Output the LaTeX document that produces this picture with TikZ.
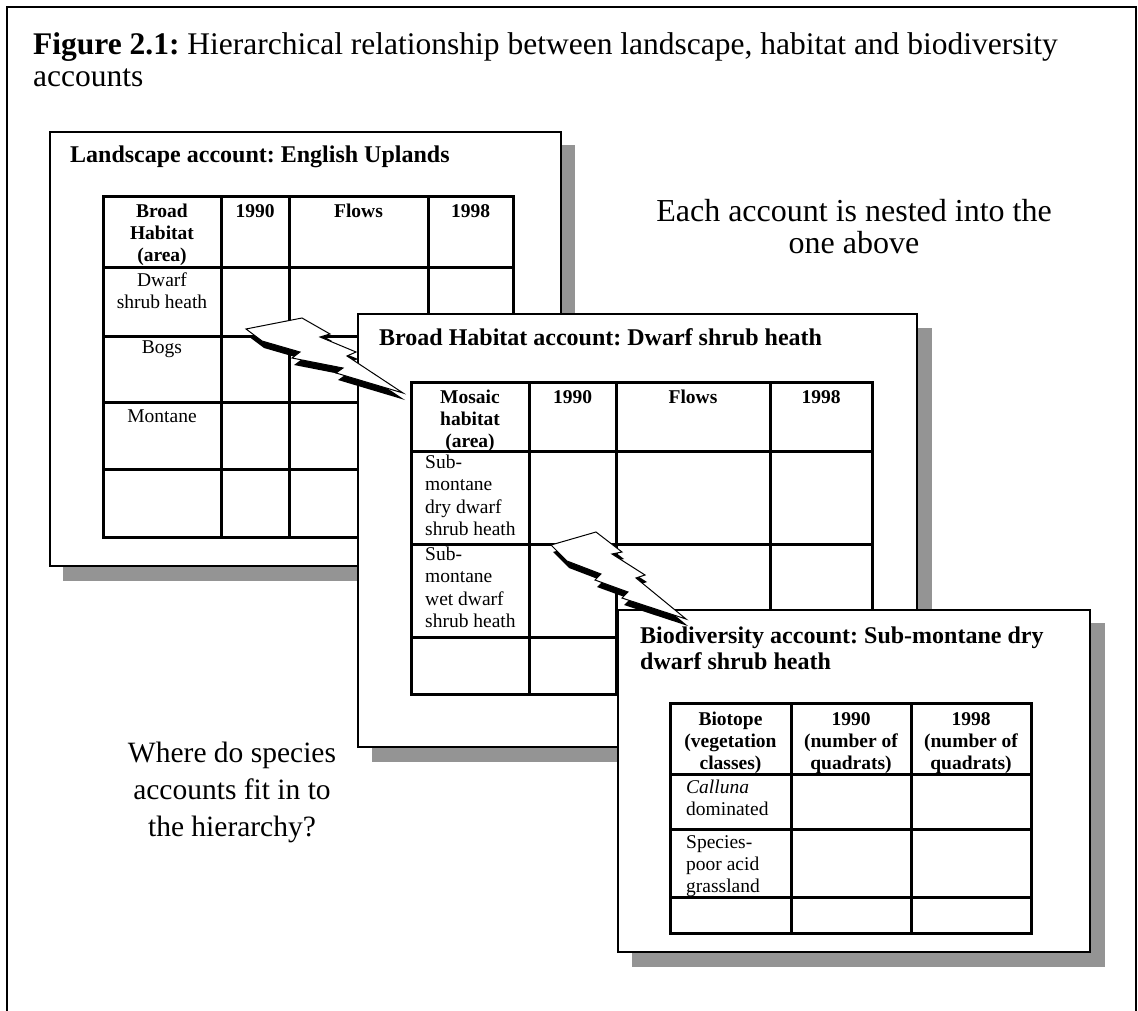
\documentclass[tikz,border=0pt]{standalone}
\usepackage{fontspec}
\setmainfont{Liberation Serif}
\frenchspacing
\newcommand\cstk[1]{\vtop{\halign{\hfil##\hfil\cr#1\crcr}}}
\newcommand\lstk[1]{\vtop{\halign{##\hfil\cr#1\crcr}}}
\begin{document}
\frenchspacing
\begin{tikzpicture}[x=1pt,y=-1pt,
  shadowbox/.style={fill=black!42, draw=none},
  panel/.style={fill=white, draw=black, line width=1.2pt},
  tbl/.style={line width=3pt, line cap=rect},
  big/.style={font=\fontsize{32}{32}\selectfont, inner sep=0pt, anchor=base},
  ptitle/.style={font=\bfseries\fontsize{24}{26}\selectfont, inner sep=0pt, anchor=base west},
  cell/.style={font=\fontsize{19.5}{22}\selectfont, inner sep=0pt, anchor=base},
  hcell/.style={inner sep=0pt, anchor=base, font=\bfseries\fontsize{19.5}{22}\selectfont},
  lcell/.style={inner sep=0pt, anchor=base west, font=\fontsize{19.5}{22.5}\selectfont},
  bolt/.style={fill=white, draw=black, line width=1pt, line join=miter}]
\path[use as bounding box] (0,0) rectangle (1138,1011);
% outer frame
\draw[line width=1.2pt] (7,1011) -- (7,7) -- (1136,7) -- (1136,1011);
\node[anchor=base west, inner sep=0pt, font=\fontsize{31.5}{30}\selectfont] (t1) at (33,55)
  {\textbf{Figure 2.1:} Hierarchical relationship between landscape, habitat and biodiversity};
\node[anchor=base west, inner sep=0pt, font=\fontsize{31.5}{30}\selectfont] (t2) at (33,87) {accounts};

% ---------- Panel 1 ----------
\fill[shadowbox] (63,145) rectangle (575,581);
\draw[panel] (50,132) rectangle (561,566);
\node[ptitle] (p1t) at (70,163) {Landscape account: English Uplands};
\draw[tbl] (103,197) rectangle (513,537);
\draw[tbl] (221,197)--(221,537) (289,197)--(289,537) (428,197)--(428,537);
\draw[tbl] (103,267)--(513,267) (103,336)--(513,336) (103,402)--(513,402) (103,469)--(513,469);
\node[hcell] (a11) at (162,218) {\cstk{Broad\cr Habitat\cr (area)}};
\node[hcell] (a12) at (255,218) {1990};
\node[hcell] (a13) at (358.5,218) {Flows};
\node[hcell] (a14) at (470.5,218) {1998};
\node[cell] (a21) at (162,287) {\cstk{Dwarf\cr shrub heath}};
\node[cell] (a31) at (162,353) {Bogs};
\node[cell] (a41) at (162,422) {Montane};

% ---------- Panel 2 ----------
\fill[shadowbox] (372,328) rectangle (932,762);
\draw[panel] (358,314) rectangle (917,747);
\node[ptitle] (p2t) at (379,345) {Broad Habitat account: Dwarf shrub heath};
\draw[tbl] (411,382) rectangle (872,694);
\draw[tbl] (529,382)--(529,694) (616,382)--(616,694) (770,382)--(770,694);
\draw[tbl] (411,451)--(872,451) (411,544)--(872,544) (411,637)--(872,637);
\node[hcell] (b11) at (470,403) {\cstk{Mosaic\cr habitat\cr (area)}};
\node[hcell] (b12) at (572.5,403) {1990};
\node[hcell] (b13) at (693,403) {Flows};
\node[hcell] (b14) at (821,403) {1998};
\node[lcell] (b21) at (425,468) {\lstk{Sub-\cr montane\cr dry dwarf\cr shrub heath}};
\node[lcell] (b31) at (425,560) {\lstk{Sub-\cr montane\cr wet dwarf\cr shrub heath}};

% bolt 1
\fill[black] (248,336) -- (304,325) -- (332,341) -- (322,344) -- (358,359) -- (349,363) -- (405,400) -- (338,380) -- (345,375) -- (294,365) -- (302,359) -- (264,348) -- cycle;
\filldraw[bolt] (246,329) -- (302,318) -- (330,334) -- (320,337) -- (356,352) -- (347,356) -- (403,393) -- (336,373) -- (343,368) -- (292,358) -- (300,352) -- (262,341) -- cycle;

% ---------- Panel 3 ----------
\fill[shadowbox] (632,623) rectangle (1105,967);
\draw[panel] (618,610) rectangle (1090,952);
\node[ptitle, font=\bfseries\fontsize{24}{26}\selectfont] (p3t) at (640,643)
  {\lstk{Biodiversity account: Sub-montane dry\cr dwarf shrub heath}};
\draw[tbl] (670,703) rectangle (1031,933);
\draw[tbl] (791,703)--(791,933) (911,703)--(911,933);
\draw[tbl] (670,774)--(1031,774) (670,829)--(1031,829) (670,897)--(1031,897);
\node[hcell] (c11) at (730.5,725) {\cstk{Biotope\cr (vegetation\cr classes)}};
\node[hcell] (c12) at (851,725) {\cstk{1990\cr (number of\cr quadrats)}};
\node[hcell] (c13) at (971,725) {\cstk{1998\cr (number of\cr quadrats)}};
\node[lcell, font=\fontsize{19.5}{22}\selectfont] (c21) at (686,793) {\lstk{\textit{Calluna}\cr dominated}};
\node[lcell, font=\fontsize{19.5}{22}\selectfont] (c31) at (686,848) {\lstk{Species-\cr poor acid\cr grassland}};

% bolt 2
\fill[black] (553,552) -- (598,539) -- (624,559) -- (614,561) -- (647,582) -- (638,585) -- (688,626) -- (624,605) -- (630,599) -- (597,587) -- (603,581) -- (569,568) -- cycle;
\filldraw[bolt] (551,545) -- (596,532) -- (622,552) -- (612,554) -- (645,575) -- (636,578) -- (686,619) -- (622,598) -- (628,592) -- (595,580) -- (601,574) -- (567,561) -- cycle;

% ---------- free texts ----------
\node[big] (nest) at (854,222) {\cstk{Each account is nested into the\cr one above}};
\node[big, font=\fontsize{29.5}{37}\selectfont] (where) at (232,762)
  {\cstk{Where do species\cr accounts fit in to\cr the hierarchy?}};
\end{tikzpicture}
\end{document}
